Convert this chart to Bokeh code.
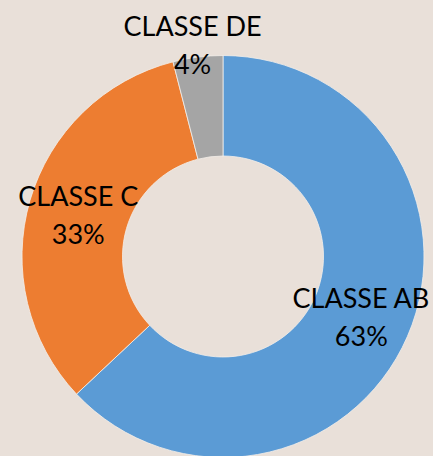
import numpy as np
from bokeh.plotting import figure
from bokeh.models import Range1d, ColumnDataSource
from bokeh.core.properties import value
from bokeh.embed import file_html
from bokeh.resources import INLINE

categories = ["CLASSE AB", "CLASSE C", "CLASSE DE"]
shares = [63, 33, 4]
colors = ["#5b9bd5", "#ed7d31", "#a5a5a5"]

BG = "#e9e0d9"
W, H = 433, 456
cx, cy = 222.5, H - 256
r_in, r_out = 100.5, 201.0

vals = np.array(shares, dtype=float)
frac = vals / vals.sum()
ends = np.cumsum(frac) * 2 * np.pi
starts = ends - frac * 2 * np.pi
start_ang = np.pi / 2 - starts
end_ang = np.pi / 2 - ends

src = ColumnDataSource(dict(start=start_ang, end=end_ang, color=colors))

p = figure(width=W, height=H, output_backend="svg", toolbar_location=None,
           x_range=Range1d(0, W), y_range=Range1d(0, H),
           min_border=0, background_fill_color=BG, border_fill_color=BG)
p.axis.visible = False
p.grid.visible = False
p.outline_line_color = None

p.annular_wedge(x=cx, y=cy, inner_radius=r_in, outer_radius=r_out,
                start_angle="start", end_angle="end", direction="clock",
                fill_color="color", line_color="#f4efea", line_width=0.8,
                source=src)

# labels
mids = (starts + ends) / 2
lx, ly, l1, l2 = [], [], [], []
for cat, f, m in zip(categories, frac, mids):
    if f >= 0.10:
        r = (r_in + r_out) / 2
        a = m
    else:
        r = r_out + 13
        a = m - 0.017
    lx.append(cx + r * np.sin(a))
    ly.append(cy + r * np.cos(a))
    l1.append(cat)
    l2.append(f"{int(round(f * 100))}%")

lsrc = ColumnDataSource(dict(x=lx, y1=[y + 19 for y in ly], y2=[y - 19 for y in ly], t1=l1, t2=l2))
for yk, tk in (("y1", "t1"), ("y2", "t2")):
    p.text(x="x", y=yk, text=tk, source=lsrc, text_font=value("Lato"),
           text_font_size="27px", text_align="center", text_baseline="middle",
           text_color="#000000")

html = file_html(p, INLINE)
html = html.replace("<body>", f"<body style=\"background:{BG};overflow:hidden\">")
open("out.html", "w").write(html)
